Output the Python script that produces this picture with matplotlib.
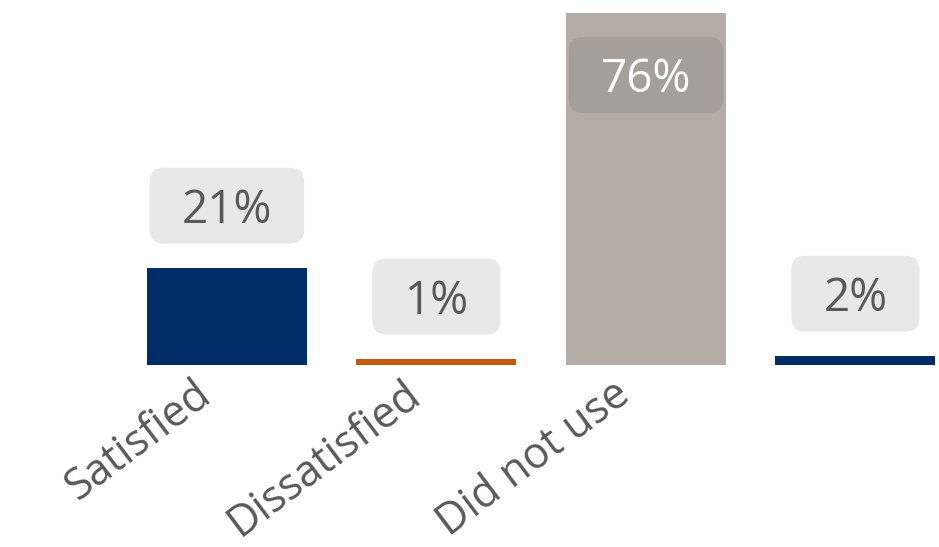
import numpy as np
import matplotlib.pyplot as plt
from matplotlib import transforms
from matplotlib.patches import FancyBboxPatch

plt.rcParams['font.family'] = ['Open Sans', 'DejaVu Sans']

categories = ["Satisfied", "Dissatisfied", "Did not use", ""]
values = [21, 1.4, 76, 2]
labels = ["21%", "1%", "76%", "2%"]
colors = ["#002D68", "#C55A11", "#B5ADA5", "#002D68"]

fig = plt.figure(figsize=(9.39, 5.47), dpi=100)
ax = fig.add_axes([0, 182/547, 1, 365/547])

x = np.arange(len(categories))
ax.bar(x, values, width=0.764, color=colors, zorder=1)
ax.set_xlim(-1.0835, 3.399)
ax.set_ylim(0, 78.8)

# value labels
texts = []
for i, (v, lab) in enumerate(zip(values, labels)):
    inside = v > 50
    dy = -62 if inside else 62
    t = ax.annotate(lab, (i, v), xytext=(0, dy), textcoords='offset pixels',
                    ha='center', va='center_baseline', fontsize=33,
                    color='white' if inside else '#595959', zorder=4)
    texts.append((t, i, v, dy, inside))

# category labels
off = transforms.ScaledTranslation(-34/100, -7/100, fig.dpi_scale_trans)
for i, cat in enumerate(categories):
    ax.text(i, 0, cat, rotation=37, rotation_mode='anchor', ha='right', va='top',
            fontsize=31, color='#595959', transform=ax.transData + off)

ax.set_xticks([])
ax.set_yticks([])
for s in ax.spines.values():
    s.set_visible(False)

fig.canvas.draw()
r = fig.canvas.get_renderer()
for t, i, v, dy, inside in texts:
    bb = t.get_window_extent(r)
    cy = ax.transData.transform((i, v))[1] + dy
    w = bb.width + 64
    box = FancyBboxPatch((bb.x0 - 32, cy - 38), w, 76,
                         boxstyle='round,pad=0,rounding_size=14',
                         fc='#A69E98' if inside else '#E8E8E8', ec='none',
                         transform=transforms.IdentityTransform(), zorder=3)
    ax.add_artist(box)

fig.savefig("out.png", dpi=100)
